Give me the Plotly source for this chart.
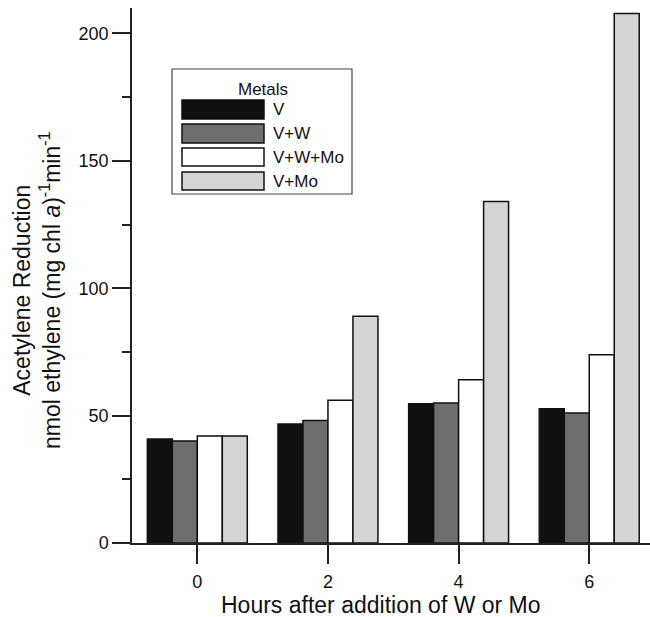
import plotly.graph_objects as go

hours = [0, 2, 4, 6]
series_names = ["V", "V+W", "V+W+Mo", "V+Mo"]
v_vals = [40.8, 46.7, 54.7, 52.7]
vw_vals = [40.0, 48.1, 55.0, 51.0]
vwmo_vals = [42.0, 56.0, 64.1, 73.9]
vmo_vals = [42.0, 89.0, 134.0, 207.8]
colors = ["#111111", "#6e6e6e", "#ffffff", "#d4d4d4"]

all_vals = [v_vals, vw_vals, vwmo_vals, vmo_vals]

FONT = "Liberation Sans, Arial, sans-serif"
fig = go.Figure()
for name, vals, c in zip(series_names, all_vals, colors):
    fig.add_trace(go.Bar(x=hours, y=vals, name=name,
                         marker=dict(color=c, line=dict(color="#111111", width=1.5)),
                         showlegend=False, hoverinfo="skip"))

L, T, R, B = 132, 8, 650, 543
fig.update_layout(
    width=650, height=617,
    margin=dict(l=L, r=650 - R, t=T, b=617 - B, autoexpand=False),
    paper_bgcolor="white", plot_bgcolor="white",
    barmode="group", bargap=0.235, bargroupgap=0,
    font=dict(family=FONT, color="#111111"),
    xaxis=dict(range=[-1.0, 6.93], tickvals=hours, ticktext=[str(h) for h in hours],
               ticks="outside", ticklen=19, tickwidth=1.5, tickcolor="#222", ticklabelstandoff=3,
               showline=True, linecolor="#222", linewidth=1.5, showgrid=False, zeroline=False,
               tickfont=dict(size=18), automargin=False),
    yaxis=dict(range=[0, 210], tickvals=[0, 50, 100, 150, 200],
               ticks="outside", ticklen=18, tickwidth=1.5, tickcolor="#222",
               minor=dict(tickvals=[25, 75, 125, 175], ticks="outside", ticklen=8, tickwidth=1.5, tickcolor="#222"),
               showline=True, linecolor="#222", linewidth=1.5, showgrid=False, zeroline=False,
               tickfont=dict(size=18), automargin=False),
)

pw, ph = R - L, B - T
def fx(px):
    return (px - L) / pw
def fy(py):
    return 1 - (py - T) / ph

# axis titles
fig.add_annotation(xref="paper", yref="paper", x=fx(381), y=fy(605), xanchor="center", yanchor="middle",
                   text="Hours after addition of W or Mo", showarrow=False, font=dict(size=23))
fig.add_annotation(xref="paper", yref="paper", x=fx(37), y=fy(290), xanchor="center", yanchor="middle",
                   text="Acetylene Reduction<br>nmol ethylene (mg chl <i>a</i>)<sup>-1</sup>min<sup>-1</sup>",
                   textangle=-90, showarrow=False, font=dict(size=23))

# custom legend
fig.add_shape(type="rect", xref="paper", yref="paper", x0=fx(172), x1=fx(352), y0=fy(194), y1=fy(69),
              line=dict(color="#444", width=1.2), fillcolor="white")
fig.add_annotation(xref="paper", yref="paper", x=fx(263), y=fy(89), text="Metals", showarrow=False,
                   font=dict(size=17), xanchor="center", yanchor="middle")
rows = [(100, 119), (124, 143), (148, 166), (172, 190)]
for (t, b), name, c in zip(rows, series_names, colors):
    fig.add_shape(type="rect", xref="paper", yref="paper", x0=fx(182), x1=fx(264), y0=fy(b), y1=fy(t),
                  line=dict(color="#111", width=1.5), fillcolor=c)
    fig.add_annotation(xref="paper", yref="paper", x=fx(271), y=fy((t + b) / 2), text=name, showarrow=False,
                       font=dict(size=17), xanchor="left", yanchor="middle")

fig.write_html("out.html", config={"displayModeBar": False},
               post_script="document.body.style.margin='0';document.body.style.overflow='hidden';")
